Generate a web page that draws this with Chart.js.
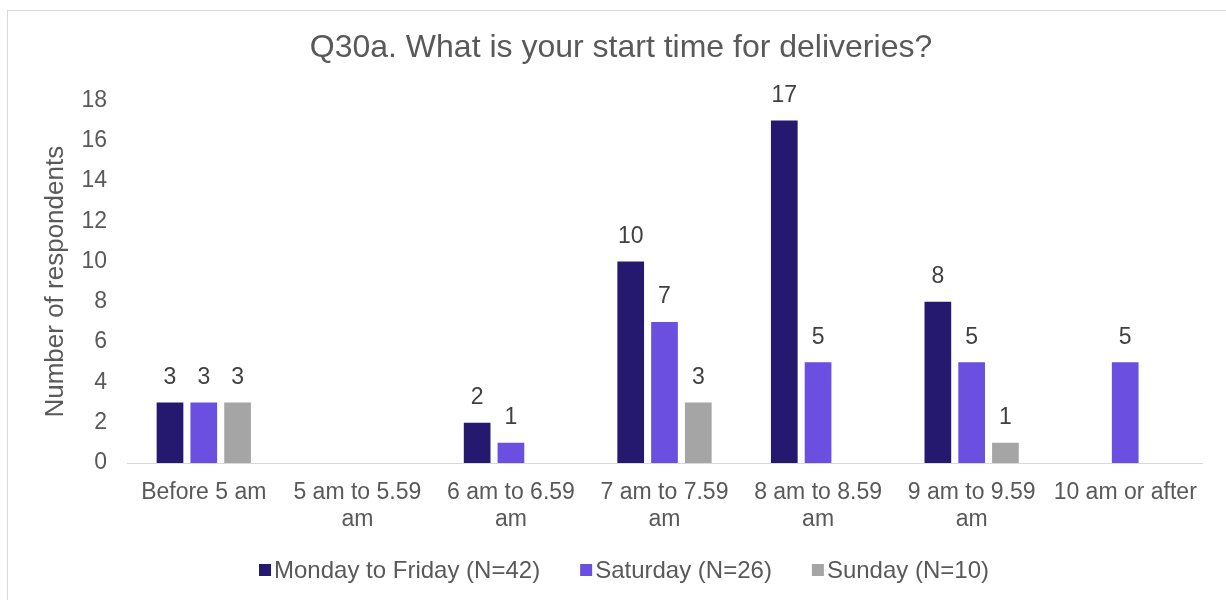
<!DOCTYPE html>
<html>
<head>
<meta charset="utf-8">
<script src="https://cdn.jsdelivr.net/npm/chart.js@4.4.3/dist/chart.umd.min.js"></script>
<style>
  html, body { margin: 0; padding: 0; background: #fff; }
  #wrap { position: relative; width: 1226px; height: 600px; overflow: hidden; }
  #frame { position: absolute; left: 7px; top: 10px; width: 1240px; height: 620px; border: 1px solid #d9d9d9; box-sizing: border-box; }
  canvas { position: absolute; left: 0; top: 0; }
</style>
</head>
<body>
<div id="wrap">
  <div id="frame"></div>
  <canvas id="chart" width="1226" height="600"></canvas>
</div>
<script>
const categories = [
  'Before 5 am',
  ['5 am to 5.59', 'am'],
  ['6 am to 6.59', 'am'],
  ['7 am to 7.59', 'am'],
  ['8 am to 8.59', 'am'],
  ['9 am to 9.59', 'am'],
  '10 am or after'
];
const weekdayCounts  = [3, null, 2, 10, 17, 8, null];
const saturdayCounts = [3, null, 1, 7, 5, 5, 5];
const sundayCounts   = [3, null, null, 3, null, 1, null];
const seriesNames = ['Monday to Friday (N=42)', 'Saturday (N=26)', 'Sunday (N=10)'];
const seriesColors = ['#24186f', '#6a4fe0', '#a5a5a5'];

const FONT = "'Liberation Sans', Arial, sans-serif";
const TEXT = '#595959';

// value labels above each bar
const barLabels = {
  id: 'barLabels',
  afterDatasetsDraw(chart) {
    const ctx = chart.ctx;
    ctx.save();
    ctx.font = '23px ' + FONT;
    ctx.fillStyle = '#404040';
    ctx.textAlign = 'center';
    ctx.textBaseline = 'middle';
    chart.data.datasets.forEach((ds, i) => {
      chart.getDatasetMeta(i).data.forEach((bar, j) => {
        const v = ds.data[j];
        if (v === null) return;
        ctx.fillText(String(v), bar.x, bar.y - 25);
      });
    });
    ctx.restore();
  }
};

// compact legend row under the axis: small square, tight gap, wide spacing between items
const legendRow = {
  id: 'legendRow',
  afterDraw(chart) {
    const ctx = chart.ctx;
    const box = 12, textGap = 3, itemGap = 40, y = 570, centerX = 624;
    ctx.save();
    ctx.font = '24px ' + FONT;
    ctx.textBaseline = 'middle';
    const items = chart.data.datasets.map(ds => ({
      text: ds.label, color: ds.backgroundColor, w: ctx.measureText(ds.label).width
    }));
    const total = items.reduce((s, it) => s + box + textGap + it.w, 0) + itemGap * (items.length - 1);
    let x = centerX - total / 2;
    items.forEach(it => {
      ctx.fillStyle = it.color;
      ctx.fillRect(x, y - box / 2, box, box);
      x += box + textGap;
      ctx.fillStyle = TEXT;
      ctx.fillText(it.text, x, y + 1);
      x += it.w + itemGap;
    });
    ctx.restore();
  }
};

const datasets = [weekdayCounts, saturdayCounts, sundayCounts].map((data, i) => ({
  label: seriesNames[i],
  data,
  backgroundColor: seriesColors[i],
  categoryPercentage: 0.66,
  barPercentage: 0.79
}));

new Chart(document.getElementById('chart'), {
  type: 'bar',
  data: { labels: categories, datasets },
  options: {
    responsive: false,
    animation: false,
    layout: { padding: { left: 40, right: 24, top: 0, bottom: 49 } },
    plugins: {
      title: {
        display: true,
        text: 'Q30a. What is your start time for deliveries?',
        color: TEXT,
        font: { family: FONT, size: 32, weight: 'normal' },
        padding: { top: 29, bottom: 33 }
      },
      legend: { display: false },
      tooltip: { enabled: false }
    },
    scales: {
      x: {
        grid: { display: false },
        border: { color: '#d9d9d9', width: 1 },
        ticks: {
          color: TEXT,
          font: { family: FONT, size: 23, lineHeight: 1.17 },
          maxRotation: 0,
          autoSkip: false,
          padding: 8
        },
        afterFit(scale) { scale.height = 88; }
      },
      y: {
        min: 0,
        max: 18,
        ticks: {
          stepSize: 2,
          color: TEXT,
          font: { family: FONT, size: 23 },
          padding: 20
        },
        grid: { display: false, drawTicks: false },
        border: { display: false },
        title: {
          display: true,
          text: 'Number of respondents',
          color: TEXT,
          font: { family: FONT, size: 26 },
          padding: 0
        },
        afterFit(scale) { scale.width = 87; }
      }
    }
  },
  plugins: [barLabels, legendRow]
});
</script>
</body>
</html>
